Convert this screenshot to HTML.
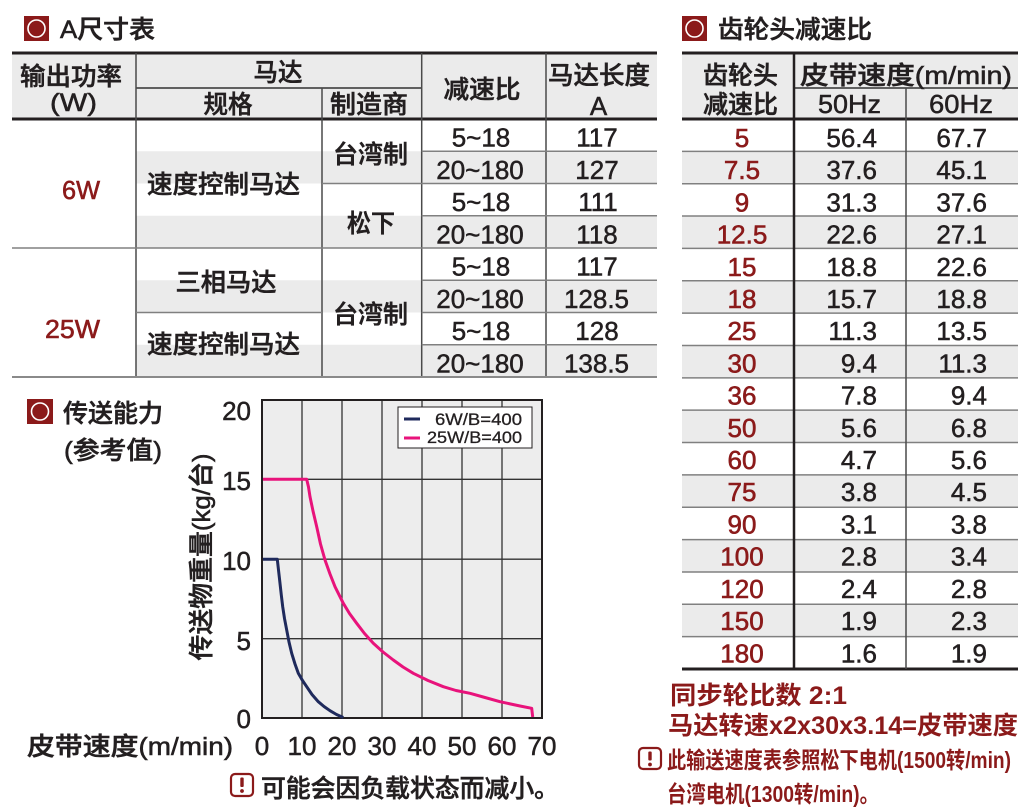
<!DOCTYPE html>
<html><head><meta charset="utf-8">
<style>
html,body{margin:0;padding:0;background:#fff;width:1025px;height:811px;overflow:hidden}
svg{display:block}
text{font-family:"Liberation Sans","Noto Sans CJK SC",sans-serif;fill:#231f20}
.c{font-size:25px;font-weight:500;stroke:#231f20;stroke-width:0.55}
.n{font-size:26px;stroke:#231f20;stroke-width:0.5}
.r{font-size:26px;fill:#8b1a1a;stroke:#8b1a1a;stroke-width:0.6}
.m{fill:#8b1a1a;font-weight:bold}
.g{stroke:#808080;stroke-width:1.5}
.d{stroke:#231f20}
.v{stroke:#4a4a4a;stroke-width:1.5}
</style></head><body>
<svg width="1025" height="811" viewBox="0 0 1025 811" xmlns="http://www.w3.org/2000/svg">
<!-- ===== Left title ===== -->
<rect x="24" y="16" width="25" height="25" fill="#8b1a1a"/>
<circle cx="36.5" cy="28.5" r="8.5" fill="none" stroke="#fff" stroke-width="1.6"/>
<text class="c" x="60" y="38" textLength="95" lengthAdjust="spacingAndGlyphs">A尺寸表</text>

<!-- ===== Left table ===== -->
<rect x="12" y="53" width="645" height="66" fill="#ebebeb"/>
<rect x="136" y="151.25" width="521" height="32.25" fill="#ebebeb"/>
<rect x="136" y="215.75" width="521" height="32.25" fill="#ebebeb"/>
<rect x="136" y="280.25" width="521" height="32.25" fill="#ebebeb"/>
<rect x="136" y="344.75" width="521" height="32.25" fill="#ebebeb"/>
<line x1="12" y1="53" x2="657" y2="53" class="d" stroke-width="3"/>
<line x1="12" y1="119" x2="657" y2="119" class="d" stroke-width="3"/>
<line x1="136" y1="88" x2="421.7" y2="88" stroke="#333" stroke-width="1.5"/>
<line x1="136" y1="53" x2="136" y2="377" class="v"/>
<line x1="322" y1="88" x2="322" y2="377" class="v"/>
<line x1="421.7" y1="53" x2="421.7" y2="377" class="v"/>
<line x1="546" y1="53" x2="546" y2="377" class="v"/>
<line x1="421.7" y1="151.25" x2="657" y2="151.25" class="g"/>
<line x1="322" y1="183.5" x2="657" y2="183.5" class="g"/>
<line x1="421.7" y1="215.75" x2="657" y2="215.75" class="g"/>
<line x1="12" y1="248" x2="657" y2="248" class="g"/>
<line x1="421.7" y1="280.25" x2="657" y2="280.25" class="g"/>
<line x1="136" y1="312.5" x2="322" y2="312.5" class="g"/>
<line x1="421.7" y1="312.5" x2="657" y2="312.5" class="g"/>
<line x1="421.7" y1="344.75" x2="657" y2="344.75" class="g"/>
<line x1="12" y1="377" x2="657" y2="377" stroke="#8a8a8a" stroke-width="2"/>

<g text-anchor="middle">
<text class="c" x="71" y="85" textLength="102" lengthAdjust="spacingAndGlyphs">输出功率</text>
<text class="c" x="73.5" y="111" textLength="47" lengthAdjust="spacingAndGlyphs">(W)</text>
<text class="c" x="278" y="81" textLength="49" lengthAdjust="spacingAndGlyphs">马达</text>
<text class="c" x="228" y="113" textLength="49" lengthAdjust="spacingAndGlyphs">规格</text>
<text class="c" x="369" y="113" textLength="78" lengthAdjust="spacingAndGlyphs">制造商</text>
<text class="c" x="482" y="98" textLength="77" lengthAdjust="spacingAndGlyphs">减速比</text>
<text class="c" x="599" y="84" textLength="102" lengthAdjust="spacingAndGlyphs">马达长度</text>
<text class="n" x="598.5" y="115" font-size="27">A</text>

<text class="r" x="81" y="199" font-size="25" textLength="38" lengthAdjust="spacingAndGlyphs">6W</text>
<text class="r" x="72.5" y="338" textLength="55" lengthAdjust="spacingAndGlyphs">25W</text>
<text class="c" x="223.5" y="193" textLength="153" lengthAdjust="spacingAndGlyphs">速度控制马达</text>
<text class="c" x="370.5" y="163" textLength="75" lengthAdjust="spacingAndGlyphs">台湾制</text>
<text class="c" x="371" y="232" textLength="48" lengthAdjust="spacingAndGlyphs">松下</text>
<text class="c" x="226" y="291" textLength="101" lengthAdjust="spacingAndGlyphs">三相马达</text>
<text class="c" x="370.5" y="323" textLength="75" lengthAdjust="spacingAndGlyphs">台湾制</text>
<text class="c" x="223.5" y="353" textLength="153" lengthAdjust="spacingAndGlyphs">速度控制马达</text>

<text class="n" x="481" y="146.5">5~18</text><text class="n" x="597" y="146.5">117</text>
<text class="n" x="480" y="178.75">20~180</text><text class="n" x="597" y="178.75">127</text>
<text class="n" x="481" y="211">5~18</text><text class="n" x="598" y="211">111</text>
<text class="n" x="480" y="243.25">20~180</text><text class="n" x="597" y="243.25">118</text>
<text class="n" x="481" y="275.5">5~18</text><text class="n" x="597" y="275.5">117</text>
<text class="n" x="480" y="307.75">20~180</text><text class="n" x="596.5" y="307.75">128.5</text>
<text class="n" x="481" y="340">5~18</text><text class="n" x="597" y="340">128</text>
<text class="n" x="480" y="372.25">20~180</text><text class="n" x="596.5" y="372.25">138.5</text>
</g>

<!-- ===== Right title ===== -->
<rect x="682" y="16" width="25" height="25" fill="#8b1a1a"/>
<circle cx="694.5" cy="28.5" r="8.5" fill="none" stroke="#fff" stroke-width="1.6"/>
<text class="c" x="718" y="38" textLength="154" lengthAdjust="spacingAndGlyphs">齿轮头减速比</text>

<!-- ===== Right table ===== -->
<rect x="682" y="53" width="336" height="66" fill="#ebebeb"/>
<g fill="#ebebeb">
<rect x="682" y="151.35" width="336" height="32.35"/>
<rect x="682" y="216.06" width="336" height="32.35"/>
<rect x="682" y="280.76" width="336" height="32.35"/>
<rect x="682" y="345.47" width="336" height="32.35"/>
<rect x="682" y="410.18" width="336" height="32.35"/>
<rect x="682" y="474.88" width="336" height="32.35"/>
<rect x="682" y="539.59" width="336" height="32.35"/>
<rect x="682" y="604.29" width="336" height="32.35"/>
</g>
<g class="g">
<line x1="682" y1="151.35" x2="1018" y2="151.35"/>
<line x1="682" y1="183.71" x2="1018" y2="183.71"/>
<line x1="682" y1="216.06" x2="1018" y2="216.06"/>
<line x1="682" y1="248.41" x2="1018" y2="248.41"/>
<line x1="682" y1="280.76" x2="1018" y2="280.76"/>
<line x1="682" y1="313.12" x2="1018" y2="313.12"/>
<line x1="682" y1="345.47" x2="1018" y2="345.47"/>
<line x1="682" y1="377.82" x2="1018" y2="377.82"/>
<line x1="682" y1="410.18" x2="1018" y2="410.18"/>
<line x1="682" y1="442.53" x2="1018" y2="442.53"/>
<line x1="682" y1="474.88" x2="1018" y2="474.88"/>
<line x1="682" y1="507.24" x2="1018" y2="507.24"/>
<line x1="682" y1="539.59" x2="1018" y2="539.59"/>
<line x1="682" y1="571.94" x2="1018" y2="571.94"/>
<line x1="682" y1="604.29" x2="1018" y2="604.29"/>
<line x1="682" y1="636.65" x2="1018" y2="636.65"/>
</g>
<line x1="682" y1="53" x2="1018" y2="53" class="d" stroke-width="3"/>
<line x1="682" y1="119" x2="1018" y2="119" class="d" stroke-width="3"/>
<line x1="682" y1="669" x2="1018" y2="669" class="d" stroke-width="3"/>
<line x1="794" y1="88" x2="1018" y2="88" stroke="#333" stroke-width="1.5"/>
<line x1="794" y1="53" x2="794" y2="669" class="d" stroke-width="2.5"/>
<line x1="906" y1="88" x2="906" y2="669" class="v"/>

<g text-anchor="middle">
<text class="c" x="740.5" y="84" textLength="75" lengthAdjust="spacingAndGlyphs">齿轮头</text>
<text class="c" x="740.5" y="113" textLength="75" lengthAdjust="spacingAndGlyphs">减速比</text>
<text class="c" x="906" y="84" textLength="212" lengthAdjust="spacingAndGlyphs">皮带速度(m/min)</text>
<text class="n" x="849.5" y="113" font-size="24" textLength="63" lengthAdjust="spacingAndGlyphs">50Hz</text>
<text class="n" x="961" y="113" font-size="24" textLength="64" lengthAdjust="spacingAndGlyphs">60Hz</text>
</g>
<g text-anchor="middle">
<text class="r" x="742" y="147">5</text>
<text class="r" x="742" y="179.2">7.5</text>
<text class="r" x="742" y="211.4">9</text>
<text class="r" x="742" y="243.6">12.5</text>
<text class="r" x="742" y="275.8">15</text>
<text class="r" x="742" y="308">18</text>
<text class="r" x="742" y="340.2">25</text>
<text class="r" x="742" y="372.4">30</text>
<text class="r" x="742" y="404.6">36</text>
<text class="r" x="742" y="436.8">50</text>
<text class="r" x="742" y="469">60</text>
<text class="r" x="742" y="501.2">75</text>
<text class="r" x="742" y="533.4">90</text>
<text class="r" x="742" y="565.6">100</text>
<text class="r" x="742" y="597.8">120</text>
<text class="r" x="742" y="630">150</text>
<text class="r" x="742" y="662.3">180</text>
</g>
<g text-anchor="end">
<text class="n" x="877" y="147">56.4</text><text class="n" x="987" y="147">67.7</text>
<text class="n" x="877" y="179.2">37.6</text><text class="n" x="987" y="179.2">45.1</text>
<text class="n" x="877" y="211.4">31.3</text><text class="n" x="987" y="211.4">37.6</text>
<text class="n" x="877" y="243.6">22.6</text><text class="n" x="987" y="243.6">27.1</text>
<text class="n" x="877" y="275.8">18.8</text><text class="n" x="987" y="275.8">22.6</text>
<text class="n" x="877" y="308">15.7</text><text class="n" x="987" y="308">18.8</text>
<text class="n" x="877" y="340.2">11.3</text><text class="n" x="987" y="340.2">13.5</text>
<text class="n" x="877" y="372.4">9.4</text><text class="n" x="987" y="372.4">11.3</text>
<text class="n" x="877" y="404.6">7.8</text><text class="n" x="987" y="404.6">9.4</text>
<text class="n" x="877" y="436.8">5.6</text><text class="n" x="987" y="436.8">6.8</text>
<text class="n" x="877" y="469">4.7</text><text class="n" x="987" y="469">5.6</text>
<text class="n" x="877" y="501.2">3.8</text><text class="n" x="987" y="501.2">4.5</text>
<text class="n" x="877" y="533.4">3.1</text><text class="n" x="987" y="533.4">3.8</text>
<text class="n" x="877" y="565.6">2.8</text><text class="n" x="987" y="565.6">3.4</text>
<text class="n" x="877" y="597.8">2.4</text><text class="n" x="987" y="597.8">2.8</text>
<text class="n" x="877" y="630">1.9</text><text class="n" x="987" y="630">2.3</text>
<text class="n" x="877" y="662.3">1.6</text><text class="n" x="987" y="662.3">1.9</text>
</g>

<!-- ===== Right notes ===== -->
<text class="m" x="670" y="704" font-size="25" textLength="177" lengthAdjust="spacingAndGlyphs">同步轮比数 2:1</text>
<text class="m" x="668" y="734" font-size="25" textLength="350" lengthAdjust="spacingAndGlyphs">马达转速x2x30x3.14=皮带速度</text>
<rect x="639" y="748" width="22" height="21" rx="4" fill="#fff" stroke="#8b1a1a" stroke-width="2.2"/>
<rect x="648.3" y="751.5" width="3.4" height="9" rx="1" fill="#8b1a1a"/>
<circle cx="650" cy="764.5" r="1.9" fill="#8b1a1a"/>
<text class="m" x="667" y="768" font-size="23" textLength="344" lengthAdjust="spacingAndGlyphs">此输送速度表参照松下电机(1500转/min)</text>
<text class="m" x="667" y="802" font-size="23" textLength="212" lengthAdjust="spacingAndGlyphs">台湾电机(1300转/min)。</text>

<!-- ===== Chart ===== -->
<rect x="27" y="399" width="26" height="25" fill="#8b1a1a"/>
<circle cx="40" cy="411.5" r="8.5" fill="none" stroke="#fff" stroke-width="1.6"/>
<text class="c" x="63" y="422" textLength="100" lengthAdjust="spacingAndGlyphs">传送能力</text>
<text class="c" x="64" y="459" textLength="98" lengthAdjust="spacingAndGlyphs">(参考值)</text>

<rect x="262" y="400" width="280" height="318" fill="#ededed"/>
<g stroke="#333" stroke-width="1.3">
<line x1="302" y1="400" x2="302" y2="718"/>
<line x1="342" y1="400" x2="342" y2="718"/>
<line x1="382" y1="400" x2="382" y2="718"/>
<line x1="422" y1="400" x2="422" y2="718"/>
<line x1="462" y1="400" x2="462" y2="718"/>
<line x1="502" y1="400" x2="502" y2="718"/>
<line x1="262" y1="479.3" x2="542" y2="479.3"/>
<line x1="262" y1="559.2" x2="542" y2="559.2"/>
<line x1="262" y1="638.7" x2="542" y2="638.7"/>
</g>
<rect x="262" y="400" width="280" height="318" fill="none" stroke="#231f20" stroke-width="2"/>

<polyline fill="none" stroke="#e8137b" stroke-width="3" stroke-linejoin="round" points="263,479.3 306.7,479.3 308.5,487 310,496.7 313,511 316.7,526.7 320.5,544 325,560 330,574 335,586.7 343.3,603.3 349.5,613.5 356.7,623.3 364.5,633.5 373.3,643.3 383,652 393.3,660 403,667 413.3,673.3 428,680.5 443.3,686.7 456,690.5 470,693.3 485,697.5 500,701.7 520,706 531.7,708.3 532.7,717"/>
<polyline fill="none" stroke="#1f2a5c" stroke-width="3" stroke-linejoin="round" points="263,559.3 277.3,559.3 278.5,570 280,583.3 281.3,595 282.7,606.7 284.5,618.5 286.7,630 289,642 291.7,653.3 295,664 298.3,673.3 302.5,680.5 306.7,686.7 312,694.5 318.3,701.7 324,706.5 330,710.7 336.5,714.5 343.3,717.5"/>

<!-- legend -->
<rect x="398" y="407" width="134" height="41" fill="#fff" stroke="#231f20" stroke-width="1"/>
<line x1="404" y1="419" x2="420" y2="419" stroke="#1f2a5c" stroke-width="3"/>
<line x1="404" y1="438" x2="420" y2="438" stroke="#e8137b" stroke-width="3"/>
<text x="522" y="425" font-size="17" text-anchor="end" stroke="#231f20" stroke-width="0.3" textLength="87" lengthAdjust="spacingAndGlyphs">6W/B=400</text>
<text x="522" y="443" font-size="17" text-anchor="end" stroke="#231f20" stroke-width="0.3" textLength="95" lengthAdjust="spacingAndGlyphs">25W/B=400</text>

<!-- y ticks -->
<g text-anchor="end">
<text class="n" x="251" y="420">20</text>
<text class="n" x="251" y="490">15</text>
<text class="n" x="251" y="570">10</text>
<text class="n" x="251" y="650">5</text>
<text class="n" x="251" y="728">0</text>
</g>
<text class="c" transform="translate(210,557) rotate(-90)" text-anchor="middle" textLength="207" lengthAdjust="spacingAndGlyphs">传送物重量(kg/台)</text>

<!-- x ticks -->
<g text-anchor="middle">
<text class="n" x="262" y="755">0</text>
<text class="n" x="302" y="755">10</text>
<text class="n" x="342" y="755">20</text>
<text class="n" x="382" y="755">30</text>
<text class="n" x="422" y="755">40</text>
<text class="n" x="462" y="755">50</text>
<text class="n" x="502" y="755">60</text>
<text class="n" x="542" y="755">70</text>
</g>
<text class="c" x="27" y="755" textLength="206" lengthAdjust="spacingAndGlyphs">皮带速度(m/min)</text>

<!-- left note -->
<rect x="231" y="774" width="22" height="22" rx="4" fill="#fff" stroke="#8b1a1a" stroke-width="2.2"/>
<rect x="240.3" y="777.5" width="3.4" height="9.5" rx="1" fill="#8b1a1a"/>
<circle cx="242" cy="791" r="1.9" fill="#8b1a1a"/>
<text class="c" x="261" y="797" textLength="298" lengthAdjust="spacingAndGlyphs">可能会因负载状态而减小。</text>
</svg>
</body></html>
